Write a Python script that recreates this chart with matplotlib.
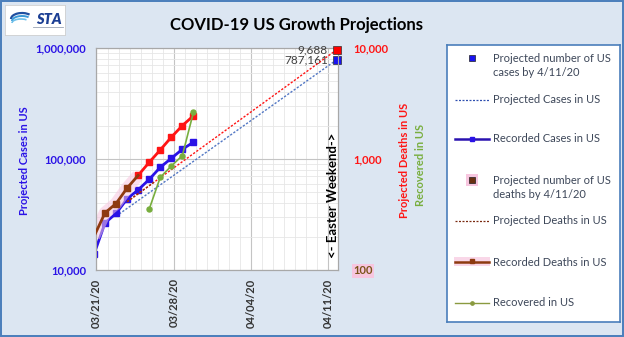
import numpy as np
import matplotlib
matplotlib.use("Agg")
import matplotlib.pyplot as plt
from matplotlib.patches import Rectangle, Arc
from matplotlib.ticker import FixedLocator, FuncFormatter, LogLocator, NullFormatter

plt.rcParams['font.family'] = ['Lato', 'DejaVu Sans']

# Day numbers are counted from 2020-03-21
case_days = [-1, 0, 1, 2, 3, 4, 5, 6, 7, 8]
cases = [13800, 26550, 32300, 43750, 52700, 65500, 84100, 101400, 122400, 141600]

death_days = [-1, 0, 1, 2, 3, 4, 5, 6, 7, 8]
deaths = [200, 327, 397, 547, 712, 933, 1206, 1571, 2000, 2449]

recovered_days = [4, 5, 6, 7, 8]
recovered = [353, 683, 865, 1071, 2624]

proj_case_days = [1, 21]
proj_cases = [30500, 787161]
proj_death_days = [2, 21]
proj_deaths = [412, 9688]

date_labels = ["03/21/20", "03/28/20", "04/04/20", "04/11/20"]
date_label_days = [-0.77, 6.23, 13.23, 20.23]

BG = "#dce6f2"
BLUE = "#2a12e6"
BLUE_DOT = "#5277c4"
RED = "#ff1414"
BROWN = "#8e3a10"
PINK = "#f7c6df"
GREEN = "#78ae3e"
TXT = "#3d4759"

W, H = 624, 337
fig = plt.figure(figsize=(W / 100, H / 100), dpi=100, facecolor=BG)

# outer frame
fig.add_artist(Rectangle((0.001, 0.002), 0.997, 0.995, transform=fig.transFigure,
                         fill=False, edgecolor="#4a7ebb", lw=1.4))

ax = fig.add_axes([96 / W, 1 - 270 / H, 242 / W, 222 / H])
ax.set_facecolor("white")
ax.set_yscale("log")
ax.set_ylim(1e4, 1e6)
ax.set_xlim(-0.814, 21.09)
ax.set_axisbelow(True)

ax2 = ax.twinx()
ax2.set_yscale("log")
ax2.set_ylim(1e2, 1e4)

# grid
ax.xaxis.set_major_locator(FixedLocator(date_label_days))
ax.xaxis.set_minor_locator(FixedLocator(np.arange(-0.77, 21.1, 1.0)))
ax.yaxis.set_major_locator(LogLocator(base=10))
ax.yaxis.set_minor_locator(LogLocator(base=10, subs=np.arange(2, 10)))
ax.yaxis.set_minor_formatter(NullFormatter())
ax.grid(which="minor", color="#e6e6e6", lw=0.6)
ax.grid(which="major", color="#c4c4c4", lw=0.8)

for a in (ax, ax2):
    for s in a.spines.values():
        s.set_color("#a8a8a8")
        s.set_linewidth(0.8)
    a.tick_params(which="both", length=0)

ax.set_xticks(date_label_days)
ax.set_xticklabels(date_labels, rotation=90, fontsize=8, fontweight="bold", color="#333333")
ax.tick_params(axis="x", pad=6)

ax.yaxis.set_major_formatter(FuncFormatter(lambda v, p: f"{int(round(v)):,}"))
ax.tick_params(axis="y", pad=7, labelsize=8, labelcolor=BLUE)
for t in ax.get_yticklabels():
    t.set_fontweight("bold")

ax2.set_yticks([100, 1000, 10000])
ax2.set_yticklabels(["100", "1,000", "10,000"])
ax2.yaxis.set_minor_formatter(NullFormatter())
ax2.yaxis.set_minor_locator(FixedLocator([]))
ax2.tick_params(axis="y", pad=11, labelsize=8)
for t, c in zip(ax2.get_yticklabels(), ["#7a5418", RED, RED]):
    t.set_color(c)
    t.set_fontweight("bold")
ax2.get_yticklabels()[0].set_bbox(dict(facecolor=PINK, edgecolor="none", pad=1.2))

# projections
ax.plot(proj_case_days, proj_cases, ls=(0, (1.6, 1.2)), color=BLUE_DOT, lw=1.0)
red_proj, = ax2.plot(proj_death_days, proj_deaths, ls=(0, (1.6, 1.2)), color=RED, lw=1.0)
brown_proj, = ax2.plot(proj_death_days, proj_deaths, ls=(0, (1.6, 1.2)), color=BROWN, lw=1.0)
clip = Rectangle((-1, 1), 5.5, 1e5, transform=ax2.transData)
brown_proj.set_clip_path(clip)

# recorded cases
ax.plot(case_days, cases, color=BLUE, lw=2.0, marker="s", ms=4.8,
        markerfacecolor=BLUE, markeredgecolor=BLUE, zorder=3)

# recorded deaths: early part in brown with a pink glow, later part in red
ax2.plot(death_days[:5], deaths[:5], color=PINK, lw=9, alpha=0.55, solid_capstyle="butt", zorder=1)
ax2.plot(death_days[4:], deaths[4:], color=RED, lw=2.0, marker="s", ms=4.8,
         markerfacecolor=RED, markeredgecolor=RED, zorder=3)
ax2.plot(death_days[:5], deaths[:5], color=BROWN, lw=2.0, zorder=3)
ax2.plot(death_days[1:4], deaths[1:4], ls="none", marker="s", ms=4.8,
         markerfacecolor=BROWN, markeredgecolor=BROWN, zorder=4)

# recovered
ax2.plot(recovered_days, recovered, color=GREEN, lw=1.2, marker="o", ms=3.6,
         markerfacecolor=GREEN, markeredgecolor=GREEN, zorder=4)

# projected values for 4/11/20
ax.plot([proj_case_days[-1]], [proj_cases[-1]], ls="none", marker="s", ms=5.5,
        markerfacecolor="#1a14f0", markeredgecolor="#303030", mew=0.5, clip_on=False, zorder=6)
ax2.plot([proj_death_days[-1]], [proj_deaths[-1]], ls="none", marker="s", ms=5.5,
         markerfacecolor="#ff0000", markeredgecolor="#303030", mew=0.5, clip_on=False, zorder=6)
ax.annotate(f"{proj_cases[-1]:,}", (proj_case_days[-1], proj_cases[-1]), xytext=(-6.5, 0),
            textcoords="offset points", ha="right", va="center", fontsize=8.5, color="#404040")
ax2.annotate(f"{proj_deaths[-1]:,}", (proj_death_days[-1], proj_deaths[-1]), xytext=(-6.5, 0),
             textcoords="offset points", ha="right", va="center", fontsize=8.5, color="#404040")

ax2.text(0.979, 0.338, "<- Easter Weekend->", transform=ax.transAxes, rotation=90,
         ha="center", va="center", fontsize=9.5, fontweight="bold", color="black", zorder=7)

# titles and axis labels
fig.text(297 / W, 1 - 25 / H, "COVID-19 US Growth Projections", ha="center", va="center",
         fontsize=12, fontweight="bold", color="black")
fig.text(25 / W, 1 - 161 / H, "Projected Cases in US", rotation=90, ha="center", va="center",
         fontsize=8, fontweight="bold", color=BLUE)
fig.text(404 / W, 1 - 160 / H, "Projected Deaths in US", rotation=90, ha="center", va="center",
         fontsize=8, fontweight="bold", color=RED)
fig.text(421 / W, 1 - 165 / H, "Recovered in US", rotation=90, ha="center", va="center",
         fontsize=8, fontweight="bold", color=GREEN)

# logo
lax = fig.add_axes([5 / W, 1 - 35 / H, 60 / W, 30 / H])
lax.set_xlim(0, 60)
lax.set_ylim(30, 0)
lax.set_facecolor("white")
for s in lax.spines.values():
    s.set_color("#d0d0d0")
    s.set_linewidth(0.6)
lax.set_xticks([])
lax.set_yticks([])
lax.add_patch(Arc((17, 14), 22, 12, theta1=180, theta2=330, color="#1f4fa0", lw=1.6))
lax.add_patch(Arc((17, 16), 20, 10, theta1=180, theta2=330, color="#3a9ad8", lw=1.4))
lax.add_patch(Arc((16, 18), 18, 8, theta1=180, theta2=330, color="#6fc0ea", lw=1.2))
lax.text(44, 14, "STA", ha="center", va="center", fontsize=10.5, fontweight="heavy",
         fontstyle="italic", color="#1c3f94")
lax.plot([28, 58], [22, 22], color="#9aa4b4", lw=0.6)

# legend panel, drawn in pixel coordinates
L, T, R, B = 446.5, 45, 620, 322
gax = fig.add_axes([L / W, 1 - B / H, (R - L) / W, (B - T) / H])
gax.set_xlim(L, R)
gax.set_ylim(B, T)
gax.set_facecolor("white")
gax.set_xticks([])
gax.set_yticks([])
for s in gax.spines.values():
    s.set_color("#4a7ebb")
    s.set_linewidth(1.2)

hx0, hx1, hxm = 455, 489, 472
tx = 493
fs = 8
gax.plot([hxm], [58], ls="none", marker="s", ms=5, markerfacecolor="#1a14f0",
         markeredgecolor="#202020", mew=0.5)
gax.text(tx, 58, "Projected number of US", va="center", fontsize=fs, color=TXT)
gax.text(tx, 72.5, "cases by 4/11/20", va="center", fontsize=fs, color=TXT)

gax.plot([hx0, hx1], [99.5, 99.5], ls=(0, (1.6, 1.2)), color="#3050b0", lw=0.9)
gax.text(tx, 99.5, "Projected Cases in US", va="center", fontsize=fs, color=TXT)

gax.plot([hx0, hx1], [139, 139], color="#2a12b0", lw=1.8)
gax.plot([hxm], [139], ls="none", marker="s", ms=3, color="#2a12e6")
gax.text(tx, 139, "Recorded Cases in US", va="center", fontsize=fs, color=TXT)

gax.add_patch(Rectangle((hxm - 6, 174), 12, 12, facecolor=PINK, edgecolor="none"))
gax.plot([hxm], [180], ls="none", marker="s", ms=5, markerfacecolor="#6a3010",
         markeredgecolor="#202020", mew=0.5)
gax.text(tx, 180, "Projected number of US", va="center", fontsize=fs, color=TXT)
gax.text(tx, 195, "deaths by 4/11/20", va="center", fontsize=fs, color=TXT)

gax.plot([hx0, hx1], [221, 221], ls=(0, (1.6, 1.2)), color="#7a2a10", lw=0.9)
gax.text(tx, 221, "Projected Deaths in US", va="center", fontsize=fs, color=TXT)

gax.add_patch(Rectangle((hx0 - 1, 257), hx1 - hx0 + 2, 9, facecolor=PINK, edgecolor="none", alpha=0.7))
gax.plot([hx0, hx1], [262, 262], color=BROWN, lw=1.8)
gax.plot([hxm], [261], ls="none", marker="s", ms=3, color=BROWN)
gax.text(tx, 262, "Recorded Deaths in US", va="center", fontsize=fs, color=TXT)

gax.plot([hx0, hx1], [303, 303], color="#8a9a40", lw=1.0)
gax.plot([hxm], [303], ls="none", marker="o", ms=2.4, color="#8a9a40")
gax.text(tx, 303, "Recovered in US", va="center", fontsize=fs, color=TXT)

fig.savefig("out.png", dpi=100, facecolor=BG)
